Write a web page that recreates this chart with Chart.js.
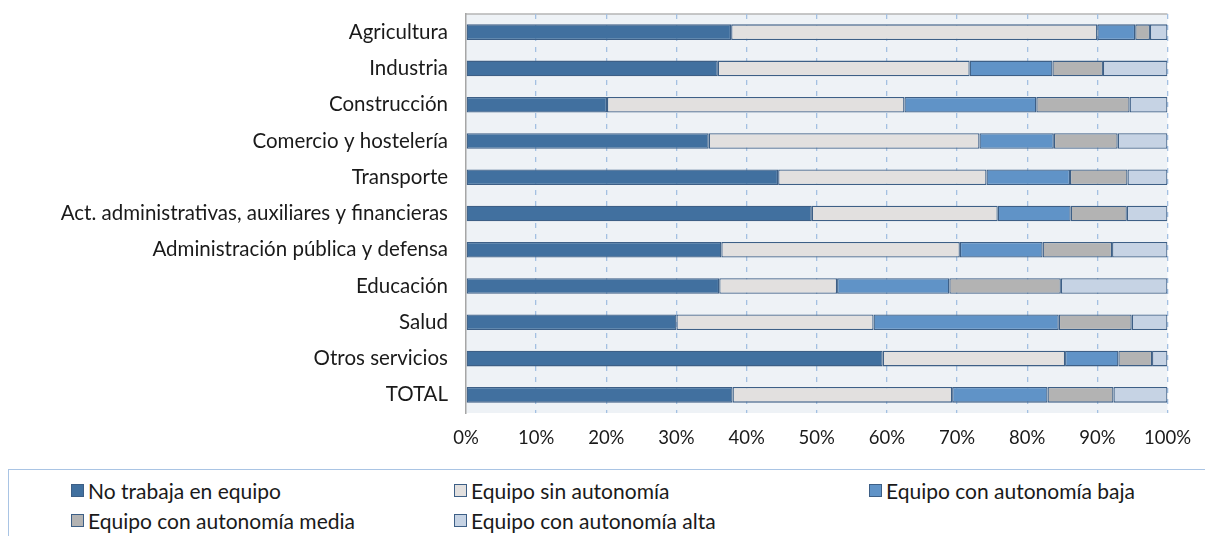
<!DOCTYPE html>
<html>
<head>
<meta charset="utf-8">
<script src="https://cdn.jsdelivr.net/npm/chart.js@4/dist/chart.umd.min.js"></script>
<style>
  html, body { margin: 0; padding: 0; background: #fff; }
  #wrap { position: relative; width: 1205px; height: 536px; overflow: hidden; }
  #chartBox { position: absolute; left: 0; top: 0; width: 1205px; height: 460px; }
  #legend {
    position: absolute; left: 8px; top: 469px; width: 1240px; height: 90px;
    border: 1.5px solid #a9c4e4; box-sizing: border-box;
    font-family: Lato, "Open Sans", sans-serif; font-size: 21px; color: #1a1a1a;
  }
  .item { position: absolute; display: flex; align-items: center; white-space: nowrap; }
  .swatch { width: 11px; height: 11px; border: 1.5px solid #3d5f86; margin-right: 4px; }
</style>
</head>
<body>
<div id="wrap">
  <div id="chartBox"><canvas id="chart"></canvas></div>
  <div id="legend"></div>
</div>
<script>
// Sectors (top to bottom)
const sectors = [
  "Agricultura",
  "Industria",
  "Construcción",
  "Comercio y hostelería",
  "Transporte",
  "Act. administrativas, auxiliares y financieras",
  "Administración pública y defensa",
  "Educación",
  "Salud",
  "Otros servicios",
  "TOTAL",
];

// Share of workers (%) per team type
const noEquipo      = [37.8, 35.9, 20.1, 34.6, 44.5, 49.3, 36.4, 36.1, 30.0, 59.4, 38.0];
const sinAutonomia  = [52.2, 35.9, 42.4, 38.6, 29.7, 26.5, 34.0, 16.8, 28.1, 26.0, 31.3];
const autonomiaBaja = [5.4, 11.8, 18.8, 10.6, 11.9, 10.4, 11.8, 16.0, 26.4, 7.6, 13.6];
const autonomiaMedia = [2.1, 7.2, 13.3, 9.1, 8.2, 8.0, 9.9, 15.9, 10.4, 4.8, 9.4];
const autonomiaAlta = [2.5, 9.2, 5.4, 7.1, 5.7, 5.8, 7.9, 15.2, 5.1, 2.2, 7.7];

const seriesNames = [
  "No trabaja en equipo",
  "Equipo sin autonomía",
  "Equipo con autonomía baja",
  "Equipo con autonomía media",
  "Equipo con autonomía alta",
];
const seriesColors = ["#41709f", "#e2e0df", "#6093c7", "#b3b3b3", "#c6d3e4"];
const seriesData = [noEquipo, sinAutonomia, autonomiaBaja, autonomiaMedia, autonomiaAlta];

const xTicks = [0, 10, 20, 30, 40, 50, 60, 70, 80, 90, 100];

const FONT = "Lato, 'Open Sans', sans-serif";

// Light plot background plus the grey top border of the plot
const plotBackground = {
  id: "plotBackground",
  beforeDraw(chart) {
    const { ctx, chartArea: a } = chart;
    ctx.save();
    ctx.fillStyle = "#eef2f6";
    ctx.fillRect(a.left, a.top, a.right - a.left, a.bottom - a.top);
    ctx.strokeStyle = "#b4b4b4";
    ctx.lineWidth = 1.5;
    ctx.beginPath();
    ctx.moveTo(a.left, a.top);
    ctx.lineTo(a.right, a.top);
    ctx.stroke();
    ctx.restore();
  },
};

const datasets = seriesNames.map((name, i) => ({
  label: name,
  data: seriesData[i],
  backgroundColor: seriesColors[i],
  borderColor: "#3d5f86",
  borderWidth: 1.3,
  borderSkipped: false,
  categoryPercentage: 1,
  barPercentage: 0.43,
}));

const chart = new Chart(document.getElementById("chart"), {
  type: "bar",
  data: { labels: sectors, datasets },
  plugins: [plotBackground],
  options: {
    indexAxis: "y",
    responsive: true,
    maintainAspectRatio: false,
    animation: false,
    layout: { padding: { top: 14, right: 33, left: 0, bottom: 0 } },
    plugins: { legend: { display: false }, tooltip: { enabled: false } },
    scales: {
      x: {
        stacked: true,
        min: 0,
        max: 100,
        afterBuildTicks: (scale) => {
          scale.ticks = xTicks.map((v) => ({ value: v }));
        },
        afterFit: (scale) => {
          scale.height = 47;
        },
        grid: {
          color: (ctx) => (ctx.index === 0 ? "rgba(0,0,0,0)" : "#a3c0e2"),
          lineWidth: 1.3,
          drawTicks: false,
        },
        border: { display: false, dash: [5, 6] },
        ticks: {
          padding: 14,
          color: "#1a1a1a",
          font: { family: FONT, size: 18.5 },
          callback: (v) => v + "%",
        },
      },
      y: {
        stacked: true,
        afterFit: (scale) => {
          // fixed label column; no extra top/bottom room for the labels
          scale.width = 466;
          scale.paddingTop = 0;
          scale.paddingBottom = 0;
        },
        grid: { display: false },
        border: { display: true, color: "#a6a6a6", width: 1.5 },
        ticks: {
          padding: 10,
          color: "#1a1a1a",
          font: { family: FONT, size: 20.5 },
        },
      },
    },
  },
});

// Legend laid out in three columns
const legendPos = [
  [62, 8], [445, 8], [860, 8],
  [62, 38], [445, 38],
];
const legendEl = document.getElementById("legend");
seriesNames.forEach((name, i) => {
  const item = document.createElement("div");
  item.className = "item";
  item.style.left = legendPos[i][0] + "px";
  item.style.top = legendPos[i][1] + "px";
  const sw = document.createElement("span");
  sw.className = "swatch";
  sw.style.background = seriesColors[i];
  const label = document.createElement("span");
  label.textContent = name;
  item.appendChild(sw);
  item.appendChild(label);
  legendEl.appendChild(item);
});
</script>
</body>
</html>
